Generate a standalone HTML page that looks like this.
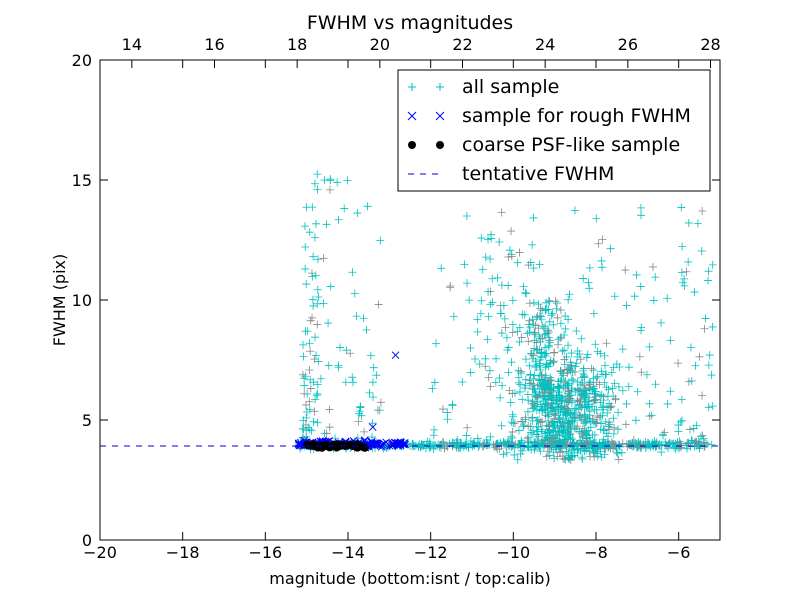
<!DOCTYPE html>
<html><head><meta charset="utf-8"><style>
body{margin:0;background:#fff;}
svg{display:block;font-family:"DejaVu Sans","Liberation Sans",sans-serif;}
</style></head><body>
<svg id="s" width="800" height="600" xmlns="http://www.w3.org/2000/svg">
<rect width="800" height="600" fill="#fff"/>
<g id="pts"></g>
<line x1="100" y1="446" x2="720" y2="446" stroke="#0000cc" stroke-dasharray="6,6" stroke-width="1"/>
<rect x="100" y="60" width="620" height="480" fill="none" stroke="#000" stroke-width="1"/>
<g id="ticks" stroke="#000"></g>
<g id="labels" font-size="16" fill="#000"></g>
<text x="410" y="29" font-size="19" text-anchor="middle">FWHM vs magnitudes</text>
<text x="410" y="584" font-size="16" text-anchor="middle">magnitude (bottom:isnt / top:calib)</text>
<text x="65" y="300" font-size="16" text-anchor="middle" transform="rotate(-90 65 300)">FWHM (pix)</text>
<rect x="398" y="70" width="312" height="121" fill="#fff" stroke="#000"/>
<g font-size="19">
<text x="462" y="93">all sample</text>
<text x="462" y="122">sample for rough FWHM</text>
<text x="462" y="151">coarse PSF-like sample</text>
<text x="462" y="180">tentative FWHM</text>
</g>
<g stroke="#00bfbf"><path d="M408 87h8M412 83v8M436 87h8M440 83v8"/></g>
<g stroke="#0000ff"><path d="M408 112l8 8M416 112l-8 8M436 112l8 8M444 112l-8 8"/></g>
<circle cx="412" cy="145" r="4"/><circle cx="440" cy="145" r="4"/>
<line x1="408" y1="174" x2="444" y2="174" stroke="#0000cc" stroke-dasharray="6,6"/>
</svg>
<script>
var NS="http://www.w3.org/2000/svg";
function X(m){return 100+(m+20)*620/15;}
function Y(f){return 540-f*24;}
var seed=7;function r(){seed=(seed*16807)%2147483647;return seed/2147483647;}
function g(){return (r()+r()+r()-1.5)/0.5;}
var out="";
function plus(x,y,c){if(x<100||x>720||y<60||y>540)return;out+='<path d="M'+(x-4)+' '+y+'h8M'+x+' '+(y-4)+'v8" stroke="'+c+'" stroke-width="0.8" fill="none"/>';}
function cross(x,y){out+='<path d="M'+(x-3.5)+' '+(y-3.5)+'l7 7M'+(x+3.5)+' '+(y-3.5)+'l-7 7" stroke="#0000ff" fill="none"/>';}
function col(){return r()<0.2?"#888":"#00bfbf";}
for(var i=0;i<450;i++){var m=-15.2+r()*10;plus(X(m),Y(3.95+g()*0.07),col());}
for(var i=0;i<650;i++){var m=-8.7+g()*0.6;var f=5.3+g()*1.2;if(f<3.3)f=3.3+r();plus(X(m),Y(f),col());}
for(var i=0;i<120;i++){var m=-9.3+g()*0.3;plus(X(m),Y(6+r()*4),col());}
for(var i=0;i<180;i++){var m=-12+r()*6.8;var f=4+Math.pow(r(),2.2)*10;plus(X(m),Y(f),col());}
for(var i=0;i<50;i++){var m=-10.2+g()*0.5;plus(X(m),Y(6+r()*7),col());}
for(var i=0;i<70;i++){var m=-15.1+r()*0.4;var f=4+Math.pow(r(),2)*10;plus(X(m),Y(f),col());}
for(var i=0;i<60;i++){var m=-14.8+r()*1.6;var f=4.2+Math.pow(r(),1.5)*12;plus(X(m),Y(f),col());}
for(var i=0;i<25;i++){var m=-7.5+r()*2.5;plus(X(m),Y(3.5+r()*8),col());}
for(var i=0;i<140;i++){var m=-15.2+r()*2.6;cross(X(m),Y(4.0+g()*0.06));}
cross(X(-12.85),Y(7.7));cross(X(-13.4),Y(4.7));
for(var i=0;i<40;i++){var m=-15+r()*1.5;out+='<circle cx="'+X(m)+'" cy="'+Y(3.92+g()*0.04)+'" r="4"/>';}
document.getElementById("pts").innerHTML=out;
var t="",l="";
for(var v=-20;v<=-6;v+=2){var x=X(v);t+='<line x1="'+x+'" y1="540" x2="'+x+'" y2="532"/><line x1="'+x+'" y1="60" x2="'+x+'" y2="68"/>';l+='<text x="'+x+'" y="558" text-anchor="middle">\u2212'+(-v)+'</text>';}
for(var v=14;v<=28;v+=2){var x=X(v-33.23);t+='<line x1="'+x+'" y1="60" x2="'+x+'" y2="68"/>';l+='<text x="'+x+'" y="50" text-anchor="middle">'+v+'</text>';}
for(var v=0;v<=20;v+=5){var y=Y(v);t+='<line x1="100" y1="'+y+'" x2="108" y2="'+y+'"/><line x1="720" y1="'+y+'" x2="712" y2="'+y+'"/>';l+='<text x="92" y="'+(y+6)+'" text-anchor="end">'+v+'</text>';}
document.getElementById("ticks").innerHTML=t;document.getElementById("labels").innerHTML=l;
</script>
</body></html>
